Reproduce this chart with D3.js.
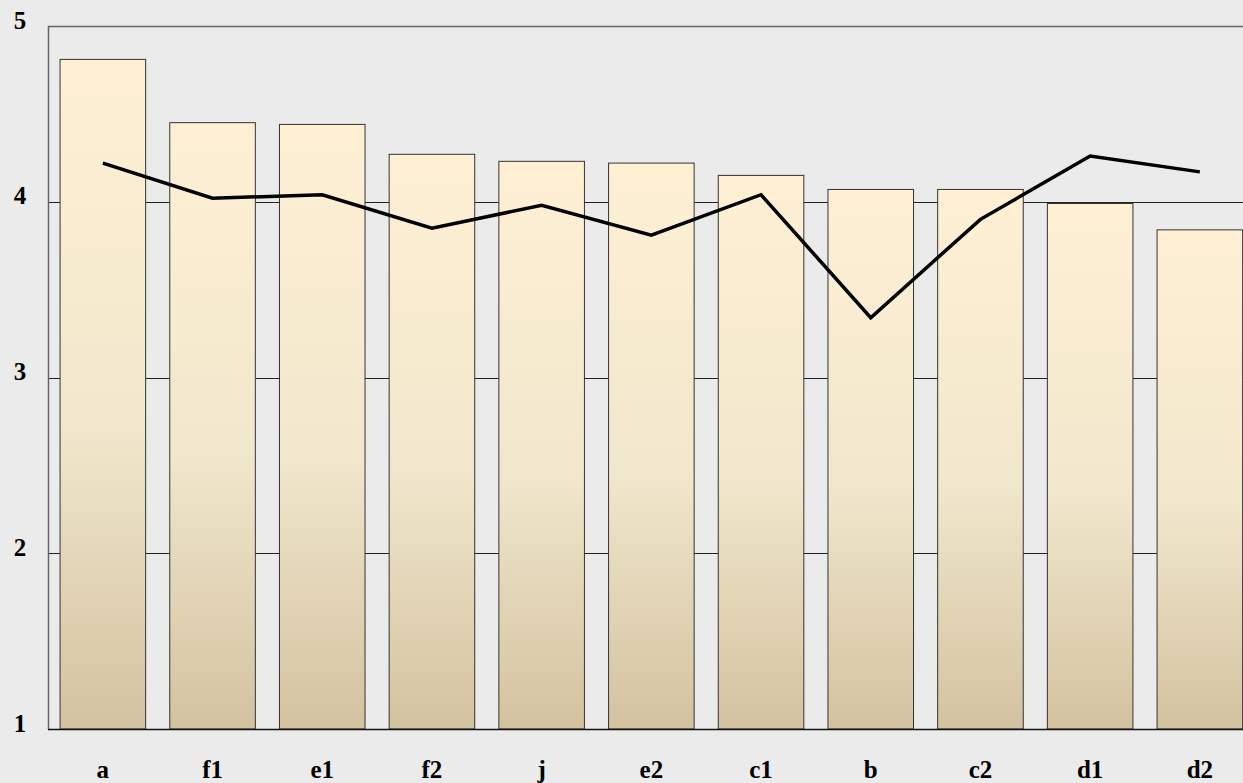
<!DOCTYPE html>
<html>
<head>
<meta charset="utf-8">
<script src="https://cdn.jsdelivr.net/npm/d3@7"></script>
<style>
  body { margin: 0; background: #ebebeb; }
  svg { display: block; }
</style>
</head>
<body>
<div id="viz"></div>
<script>
// chart data
var categories = ['a', 'f1', 'e1', 'f2', 'j', 'e2', 'c1', 'b', 'c2', 'd1', 'd2']
var barValues = [4.81, 4.45, 4.44, 4.27, 4.23, 4.22, 4.15, 4.07, 4.07, 3.99, 3.84]
var lineValues = [4.22, 4.02, 4.04, 3.85, 3.98, 3.81, 4.04, 3.34, 3.90, 4.26, 4.17]
var yTicks = [1, 2, 3, 4, 5]

var W = 1243, H = 783
var margin = { top: 26, left: 48, bottom: 54 }

var svg = d3.select('#viz')
  .append('svg')
  .attr('width', W)
  .attr('height', H)

svg.append('rect')
  .attr('width', W).attr('height', H)
  .attr('fill', '#ebebeb')

var grad = svg.append('defs').append('linearGradient')
  .attr('id', 'barfill')
  .attr('x1', 0).attr('y1', 0).attr('x2', 0).attr('y2', 1)
grad.append('stop').attr('offset', '0%').attr('stop-color', '#fff0d4')
grad.append('stop').attr('offset', '55%').attr('stop-color', '#f1e7cc')
grad.append('stop').attr('offset', '100%').attr('stop-color', '#d3c29f')

var x = d3.scaleBand()
  .domain(categories)
  .range([margin.left, margin.left + 11 * 109.7])
  .paddingInner(0.22)
  .paddingOuter(0.11)

var y = d3.scaleLinear()
  .domain([1, 5])
  .range([H - margin.bottom, margin.top])

// gridlines
svg.selectAll('.grid')
  .data(yTicks.filter(function(d) { return d > 1 && d < 5 }))
  .enter()
  .append('line')
  .attr('x1', margin.left).attr('x2', W)
  .attr('y1', function(d) { return Math.round(y(d)) + 0.5 })
  .attr('y2', function(d) { return Math.round(y(d)) + 0.5 })
  .attr('stroke', '#222')
  .attr('stroke-width', 1)

// top border
svg.append('line')
  .attr('x1', margin.left).attr('x2', W)
  .attr('y1', y(5) + 0.5).attr('y2', y(5) + 0.5)
  .attr('stroke', '#666').attr('stroke-width', 1.5)

// bars
svg.selectAll('.bar')
  .data(barValues)
  .enter()
  .append('rect')
  .attr('x', function(d, i) { return x(categories[i]) })
  .attr('y', function(d) { return y(d) })
  .attr('width', x.bandwidth())
  .attr('height', function(d) { return y(1) - y(d) })
  .attr('fill', 'url(#barfill)')
  .attr('stroke', '#333')
  .attr('stroke-width', 1)

// left axis line
svg.append('line')
  .attr('x1', margin.left + 0.5).attr('x2', margin.left + 0.5)
  .attr('y1', y(5)).attr('y2', y(1))
  .attr('stroke', '#666').attr('stroke-width', 1.5)

// bottom axis line
svg.append('line')
  .attr('x1', margin.left).attr('x2', W)
  .attr('y1', y(1) + 0.5).attr('y2', y(1) + 0.5)
  .attr('stroke', '#111').attr('stroke-width', 1.5)

// line series
var line = d3.line()
  .x(function(d, i) { return x(categories[i]) + x.bandwidth() / 2 })
  .y(function(d) { return y(d) })

svg.append('path')
  .datum(lineValues)
  .attr('d', line)
  .attr('fill', 'none')
  .attr('stroke', '#000')
  .attr('stroke-width', 3.5)
  .attr('stroke-linejoin', 'miter')

// y tick labels
svg.selectAll('.ylab')
  .data(yTicks)
  .enter()
  .append('text')
  .attr('x', 20)
  .attr('y', function(d) { return y(d) - 3 })
  .attr('text-anchor', 'middle')
  .attr('dominant-baseline', 'middle')
  .attr('font-family', 'Liberation Serif, serif')
  .attr('font-weight', 'bold')
  .attr('font-size', 25)
  .text(function(d) { return d })

// x labels
svg.selectAll('.xlab')
  .data(categories)
  .enter()
  .append('text')
  .attr('x', function(d) { return x(d) + x.bandwidth() / 2 })
  .attr('y', 778)
  .attr('text-anchor', 'middle')
  .attr('font-family', 'Liberation Serif, serif')
  .attr('font-weight', 'bold')
  .attr('font-size', 25)
  .text(function(d) { return d })
</script>
</body>
</html>
